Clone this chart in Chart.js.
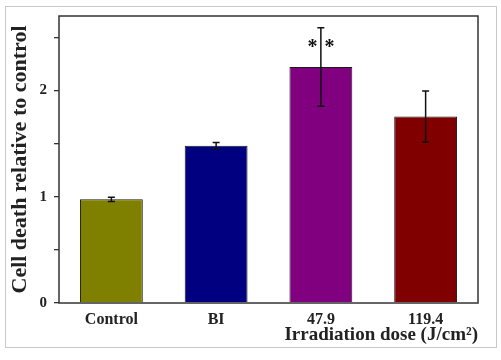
<!DOCTYPE html>
<html>
<head>
<meta charset="utf-8">
<script src="https://cdn.jsdelivr.net/npm/chart.js@4/dist/chart.umd.min.js"></script>
<style>
  html, body { margin: 0; padding: 0; background: #fff; }
  #wrap { width: 501px; height: 360px; position: relative; }
</style>
</head>
<body>
<div id="wrap"><canvas id="doseChart" width="501" height="360"></canvas></div>
<script>
const categories = ["Control", "BI", "47.9", "119.4"];
const cellDeath = [0.975, 1.48, 2.22, 1.755];
const errors = [0.02, 0.03, 0.37, 0.24];
const barColors = ["#808000", "#000080", "#800080", "#800000"];
const significance = ["", "", "* *", ""];
const starLevel = [0, 0, 2.44, 0];
const yTickLabels = { 0: "0", 1: "1", 2: "2" };

const serif = "'Liberation Serif', 'Times New Roman', serif";

const framePlugin = {
    id: "frame",
    beforeDraw(chart) {
        const c = chart.ctx;
        c.save();
        c.fillStyle = "#fff";
        c.fillRect(0, 0, chart.width, chart.height);
        c.strokeStyle = "#c8c8c8";
        c.lineWidth = 1;
        c.strokeRect(5.5, 6.5, 491, 341);
        c.restore();
    },
    afterDatasetsDraw(chart) {
        const c = chart.ctx;
        const a = chart.chartArea;
        const x = chart.scales.x;
        const y = chart.scales.y;
        c.save();
        // error bars
        c.strokeStyle = "#111";
        c.lineWidth = 1.5;
        cellDeath.forEach((v, i) => {
            const px = x.getPixelForValue(i);
            const hi = y.getPixelForValue(v + errors[i]);
            const lo = y.getPixelForValue(v - errors[i]);
            c.beginPath();
            c.moveTo(px, hi);
            c.lineTo(px, lo);
            c.moveTo(px - 3.5, hi);
            c.lineTo(px + 3.5, hi);
            c.moveTo(px - 3.5, lo);
            c.lineTo(px + 3.5, lo);
            c.stroke();
        });
        // significance stars
        c.fillStyle = "#111";
        c.font = "bold 20px " + serif;
        c.textAlign = "center";
        c.textBaseline = "middle";
        significance.forEach((s, i) => {
            if (!s) return;
            const px = x.getPixelForValue(i);
            const py = y.getPixelForValue(starLevel[i]);
            c.fillText("*", px - 8.5, py + 4);
            c.fillText("*", px + 8.5, py + 4);
        });
        // box around plot
        c.strokeStyle = "#333";
        c.lineWidth = 1.5;
        c.strokeRect(a.left, a.top, a.right - a.left, a.bottom - a.top);
        c.restore();
    },
};

new Chart(document.getElementById("doseChart"), {
    type: "bar",
    data: {
        labels: categories,
        datasets: [
            {
                data: cellDeath,
                backgroundColor: barColors,
                borderColor: "#1a1a1a",
                borderWidth: 1,
                barPercentage: 0.6,
                categoryPercentage: 1,
            },
        ],
    },
    options: {
        responsive: false,
        animation: false,
        layout: {
            padding: { left: 0, top: 16, right: 23, bottom: 14 },
        },
        plugins: {
            legend: { display: false },
            tooltip: { enabled: false },
        },
        scales: {
            x: {
                afterFit: (s) => { s.height = 43; },
                grid: { display: false, drawTicks: false },
                border: { display: false },
                ticks: {
                    padding: 7,
                    color: "#222",
                    font: { family: serif, size: 16, weight: "bold" },
                },
                title: {
                    display: true,
                    text: "Irradiation dose (J/cm²)",
                    align: "end",
                    color: "#222",
                    padding: { top: 0, bottom: 0 },
                    font: { family: serif, size: 19, weight: "bold" },
                },
            },
            y: {
                min: 0,
                max: 2.7,
                afterFit: (s) => { s.width = 59; },
                afterBuildTicks: (s) => {
                    s.ticks = [0, 0.5, 1, 1.5, 2, 2.5].map((v) => ({ value: v }));
                },
                grid: {
                    drawOnChartArea: false,
                    drawTicks: true,
                    tickLength: 5,
                    color: "#333",
                    lineWidth: 1.3,
                },
                border: { display: false },
                ticks: {
                    padding: 7,
                    color: "#222",
                    font: { family: serif, size: 15, weight: "bold" },
                    callback: (v) => (yTickLabels[v] !== undefined ? yTickLabels[v] : ""),
                },
                title: {
                    display: true,
                    text: "Cell death relative to control",
                    color: "#222",
                    padding: { top: 7, bottom: 0 },
                    font: { family: serif, size: 22, weight: "bold" },
                },
            },
        },
    },
    plugins: [framePlugin],
});
</script>
</body>
</html>
